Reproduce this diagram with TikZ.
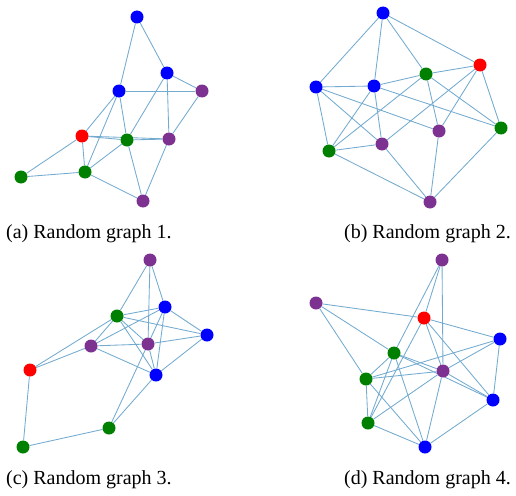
\documentclass[tikz,border=0pt]{standalone}
\usepackage{fontspec}
\setmainfont{Liberation Serif}
\usetikzlibrary{backgrounds}
\definecolor{vblue}{RGB}{0,0,255}
\definecolor{vred}{RGB}{255,0,0}
\definecolor{vgreen}{RGB}{0,128,0}
\definecolor{vpurple}{RGB}{125,50,145}
\definecolor{edgec}{RGB}{115,170,208}
\tikzset{
  vtx/.style={circle,inner sep=0pt,minimum size=13pt},
  vb/.style={vtx,fill=vblue},
  vr/.style={vtx,fill=vred},
  vg/.style={vtx,fill=vgreen},
  vp/.style={vtx,fill=vpurple},
  edge/.style={draw=edgec,line width=0.85pt},
  capt/.style={font=\fontsize{20}{22}\selectfont,inner sep=0pt}
}
\begin{document}
\begin{tikzpicture}[x=1pt,y=-1pt]
\useasboundingbox (0,0) rectangle (516,495);
% ---------- graph (a)
\node[vb] (aB1) at (137,17) {};
\node[vb] (aB2) at (167,73) {};
\node[vb] (aB3) at (119,91) {};
\node[vp] (aP1) at (202,91) {};
\node[vr] (aR) at (82,136) {};
\node[vg] (aG1) at (127,140) {};
\node[vp] (aP2) at (169,139) {};
\node[vg] (aG2) at (21,177) {};
\node[vg] (aG3) at (85,172) {};
\node[vp] (aP3) at (143,201) {};
% ---------- graph (b)
\node[vb] (bB1) at (383,13) {};
\node[vr] (bR) at (480,65) {};
\node[vg] (bG1) at (426,74) {};
\node[vb] (bB2) at (316,87) {};
\node[vb] (bB3) at (374,86) {};
\node[vg] (bG2) at (501,128) {};
\node[vp] (bP1) at (439,131) {};
\node[vp] (bP2) at (382,144) {};
\node[vg] (bG3) at (329,151) {};
\node[vp] (bP3) at (430,202) {};
% ---------- graph (c)
\node[vp] (cP1) at (150,260) {};
\node[vb] (cB1) at (165,307) {};
\node[vg] (cG1) at (117,316) {};
\node[vb] (cB2) at (207,335) {};
\node[vp] (cP2) at (91,346) {};
\node[vp] (cP3) at (148,344) {};
\node[vr] (cR) at (30,370) {};
\node[vb] (cB3) at (156,375) {};
\node[vg] (cG2) at (109,428) {};
\node[vg] (cG3) at (23,447) {};
% ---------- graph (d)
\node[vp] (dP1) at (442,260) {};
\node[vp] (dP2) at (316,303) {};
\node[vr] (dR) at (424,318) {};
\node[vb] (dB1) at (500,339) {};
\node[vg] (dG1) at (394,353) {};
\node[vp] (dP3) at (443,371) {};
\node[vg] (dG2) at (366,379) {};
\node[vb] (dB2) at (493,400) {};
\node[vg] (dG3) at (368,423) {};
\node[vb] (dB3) at (425,447) {};
% ---------- captions
\node[capt,anchor=base west] (capa) at (6,238) {(a) Random graph 1.};
\node[capt,anchor=base east] (capb) at (511,238) {(b) Random graph 2.};
\node[capt,anchor=base west] (capc) at (6,484) {(c) Random graph 3.};
\node[capt,anchor=base east] (capd) at (511,484) {(d) Random graph 4.};
% ---------- edges
\begin{scope}[on background layer]
\foreach \u/\v in {aB1/aB2,aB1/aB3,aB2/aP1,aB2/aP2,aB2/aG1,aB3/aP1,aB3/aR,aB3/aG3,aB3/aG1,aP1/aP2,aR/aG1,aR/aP2,aR/aG2,aR/aG3,aG2/aG3,aG3/aG1,aG3/aP3,aG1/aP3,aG1/aP2,aP2/aP3}
  \draw[edge] (\u) -- (\v);
\foreach \u/\v in {bB1/bB2,bB1/bB3,bB1/bG1,bB1/bR,bB2/bB3,bB2/bG3,bB2/bP2,bB2/bP1,bB3/bG1,bB3/bG3,bB3/bP2,bB3/bG2,bG1/bR,bG1/bG3,bG1/bP1,bG1/bG2,bR/bP2,bR/bP1,bR/bG2,bG3/bP2,bG3/bP3,bP2/bP3,bP1/bP3,bG2/bP3}
  \draw[edge] (\u) -- (\v);
\foreach \u/\v in {cP1/cG1,cP1/cP3,cP1/cB1,cB1/cG1,cB1/cP2,cB1/cP3,cB1/cB3,cB1/cB2,cG1/cR,cG1/cP2,cG1/cB2,cG1/cP3,cG1/cB3,cP2/cR,cP2/cP3,cP2/cB3,cP3/cB2,cP3/cB3,cP3/cG2,cB2/cB3,cB3/cG2,cR/cG3,cG3/cG2}
  \draw[edge] (\u) -- (\v);
\foreach \u/\v in {dP1/dR,dP1/dP3,dP1/dG1,dP2/dR,dP2/dG1,dP2/dG2,dR/dB1,dR/dP3,dR/dB2,dR/dG3,dB1/dG2,dB1/dP3,dB1/dB2,dG1/dG2,dG1/dG3,dG1/dP3,dG1/dB2,dG1/dB3,dG2/dP3,dG2/dG3,dG2/dB3,dP3/dG3,dP3/dB3,dP3/dB2,dG3/dB3,dB2/dB3}
  \draw[edge] (\u) -- (\v);
\end{scope}
\end{tikzpicture}
\end{document}
